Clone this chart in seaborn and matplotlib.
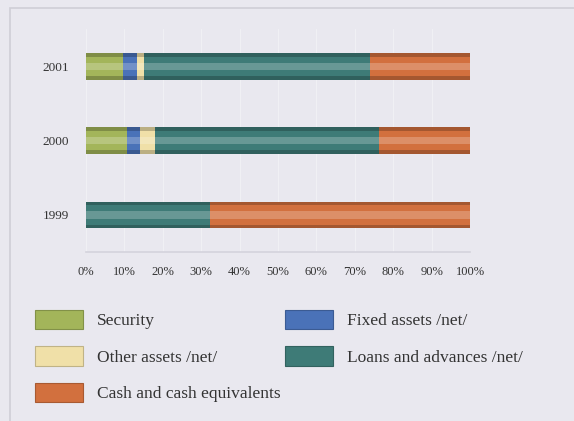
import matplotlib
matplotlib.use("Agg")
import matplotlib.pyplot as plt
import numpy as np
import pandas as pd
import seaborn as sns
from matplotlib.colors import to_rgb
from matplotlib.patches import Patch, Rectangle

# Asset structure by year (share of total, %)
years = ["2001", "2000", "1999"]
security = [9.7, 10.8, 0.0]
fixed_assets = [3.5, 3.3, 0.0]
other_assets = [2.0, 3.9, 0.0]
loans = [58.8, 58.4, 32.3]
cash = [26.0, 23.6, 67.7]

series_names = ["Security", "Fixed assets /net/", "Other assets /net/",
                "Loans and advances /net/", "Cash and cash equivalents"]
series_colors = ["#a3b55a", "#4a72b8", "#f0e0a8", "#3e7b77", "#d2703e"]
tick_labels = ["0%", "10%", "20%", "30%", "40%", "50%", "60%", "70%", "80%", "90%", "100%"]

bg = "#e9e8ef"
sns.set_theme(style="white")
plt.rcParams["font.family"] = ["Liberation Serif", "DejaVu Serif"]


def shade(c, f):
    r = np.array(to_rgb(c))
    return tuple(r * f) if f < 1 else tuple(r + (1 - r) * (f - 1))


df = pd.DataFrame({"year": years, series_names[0]: security, series_names[1]: fixed_assets,
                   series_names[2]: other_assets, series_names[3]: loans, series_names[4]: cash})
cum = df[series_names].cumsum(axis=1)
cum["year"] = df["year"]

fig = plt.figure(figsize=(5.74, 4.21), dpi=100, facecolor=bg)
ax = fig.add_axes([0.1498, 0.401, 0.669, 0.530], facecolor=bg)

# stacked bars: draw cumulative totals from the outermost segment inwards,
# each as a darker rim, the base colour and a lighter core
for name, col in reversed(list(zip(series_names, series_colors))):
    for w, c in [(0.36, shade(col, 0.78)), (0.26, col), (0.10, shade(col, 1.22))]:
        sns.barplot(data=cum, x=name, y="year", orient="h", color=c, width=w,
                    saturation=1, edgecolor="none", ax=ax)

ax.set_xlim(0, 100)
ax.set_ylim(2.5, -0.5)
ax.set_xticks(np.arange(0, 101, 10))
ax.set_xticklabels(tick_labels)
ax.set_xlabel("")
ax.set_ylabel("")
ax.tick_params(axis="x", length=0, pad=10, labelsize=9, labelcolor="#333333")
ax.tick_params(axis="y", length=0, pad=12, labelsize=9.5, labelcolor="#333333")
ax.grid(axis="x", color="white", alpha=0.35, linewidth=0.8)
ax.set_axisbelow(True)
for s in ["top", "right", "left"]:
    ax.spines[s].set_visible(False)
ax.spines["bottom"].set_color("#d4d3dc")
ax.spines["bottom"].set_linewidth(1.2)

# frame around the figure
fig.patches.append(Rectangle((10 / 574, -0.1), 1.2, 1 - 8 / 421 + 0.1, transform=fig.transFigure,
                             fill=False, edgecolor="#cfced6", linewidth=1.2))


def legend_column(idx, x_px):
    handles = [Patch(facecolor=series_colors[i], edgecolor=shade(series_colors[i], 0.8),
                     linewidth=0.8, label=series_names[i]) for i in idx]
    leg = fig.legend(handles=handles, loc="upper left", bbox_to_anchor=(x_px / 574, 1 - 310 / 421),
                     frameon=False, fontsize=12.5, handlelength=2.76, handleheight=1.32,
                     handletextpad=0.8, labelspacing=0.98, borderpad=0, borderaxespad=0,
                     labelcolor="#333333")
    return leg


legend_column([0, 2, 4], 35)
legend_column([1, 3], 285)

fig.savefig("out.png", dpi=100, facecolor=bg)
